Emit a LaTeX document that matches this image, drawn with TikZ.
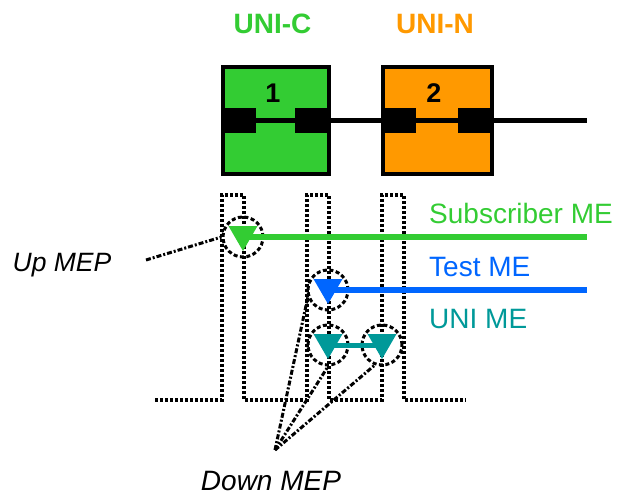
\documentclass[tikz,border=0pt]{standalone}
\usepackage{fontspec}
\setmainfont{Liberation Sans}
\definecolor{unicgreen}{HTML}{33CC33}
\definecolor{uninorange}{HTML}{FF9900}
\definecolor{testblue}{HTML}{0066FF}
\definecolor{uniteal}{HTML}{009999}
\tikzset{
  box/.style={draw,line width=4pt,minimum width=106pt,minimum height=106pt,inner sep=0pt},
  port/.style={fill=black,minimum width=35pt,minimum height=25pt,inner sep=0pt},
  mep/.style={draw,circle,line width=3pt,dash pattern=on 4pt off 2.5pt,minimum size=40pt,inner sep=0pt},
  leader/.style={line width=3pt,dash pattern=on 5pt off 2pt on 2pt off 2pt},
  profile/.style={line width=3.2pt,dash pattern=on 3pt off 2pt},
  lbl/.style={font=\fontsize{28}{30}\selectfont,inner sep=0pt}
}
\begin{document}
\begin{tikzpicture}[x=1pt,y=-1pt]
      \useasboundingbox (0,0) rectangle (621,495);
      \draw
        (275.5,120.5) node[box,fill=unicgreen] (unic){}
        (437,120.5) node[box,fill=uninorange,minimum width=109pt] (unin){}
        (273,93) node[lbl,font=\fontsize{27}{30}\selectfont\bfseries] (nc){1}
        (434,93) node[lbl,font=\fontsize{27}{30}\selectfont\bfseries] (nn){2}
        (272.5,24) node[lbl,text=unicgreen,font=\fontsize{28}{30}\selectfont\bfseries] (unictitle){UNI-C}
        (435,24) node[lbl,text=uninorange,font=\fontsize{28}{30}\selectfont\bfseries] (unintitle){UNI-N}
        (238.5,120.5) node[port] (pcl){}
        (312.5,120.5) node[port] (pcr){}
        (398.5,120.5) node[port] (pnl){}
        (475.5,120.5) node[port] (pnr){};
      \coordinate (lineend) at (587,120.5);
      \draw[profile] (155,400) -- (222,400) -- (222,195) -- (244,195) -- (244,400)
        -- (307,400) -- (307,195) -- (329,195) -- (329,400)
        -- (382,400) -- (382,195) -- (404,195) -- (404,400) -- (466,400);
      \draw
        (243,237) node[mep] (upmep){}
        (328,290) node[mep] (testmep){}
        (328,345) node[mep] (unimepa){}
        (382,345) node[mep] (unimepb){}
        (429,213) node[lbl,anchor=west,text=unicgreen] (subme){Subscriber ME}
        (429,267) node[lbl,anchor=west,text=testblue] (testme){Test ME}
        (429,319) node[lbl,anchor=west,text=uniteal] (unime){UNI ME}
        (62,265) node[lbl,font=\fontsize{26.5}{30}\selectfont\itshape] (uplbl){Up MEP}
        (271,481) node[lbl,font=\fontsize{28}{30}\selectfont\itshape] (downlbl){Down MEP};
      \coordinate (subend) at (587,237);
      \coordinate (testend) at (587,290);
      \coordinate (uptail) at (146,260);
      \coordinate (downtip) at (275,450);
      \begin{scope}[line width=5pt]
        \draw (pcl) to (pcr);
        \draw (pcr) to (pnl);
        \draw (pnl) to (pnr);
        \draw (pnr) to (lineend);
      \end{scope}
      \begin{scope}[line width=6pt]
        \draw[unicgreen] (upmep.center) to (subend);
        \draw[testblue] (testmep.center) to (testend);
        \draw[uniteal,line width=5pt] (unimepa.center) to (unimepb.center);
      \end{scope}
      \foreach \m/\c in {upmep/unicgreen,testmep/testblue,unimepa/uniteal,unimepb/uniteal}
        \fill[\c] ([shift={(-14.5,-11)}]\m.center) -- ([shift={(14.5,-11)}]\m.center)
          -- ([shift={(0,14)}]\m.center) -- cycle;
      \begin{scope}[leader]
        \draw (uptail) to (upmep.west);
        \draw (downtip) to (testmep.200);
        \draw (downtip) to (unimepa.south);
        \draw (downtip) to (unimepb.250);
      \end{scope}
    \end{tikzpicture}
\end{document}
